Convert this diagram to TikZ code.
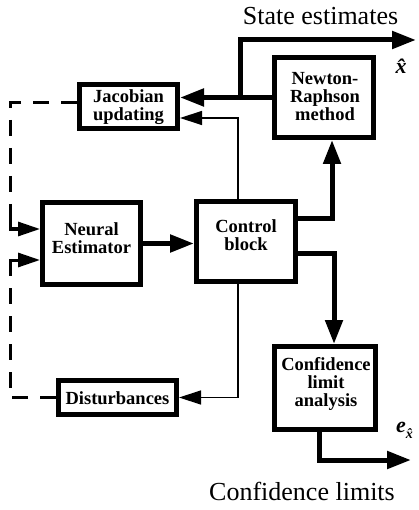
\documentclass[tikz,border=0pt]{standalone}
\usepackage{fontspec}
\setmainfont{Liberation Serif}
\usetikzlibrary{arrows.meta}
\tikzset{
  blk/.style={draw,line width=5pt,inner sep=0pt},
  lbl/.style={font=\fontsize{18.5}{18}\selectfont\bfseries,align=center,inner sep=0pt},
  fat/.style={line width=5pt,-{Triangle[length=24pt,width=17pt]}},
  thn/.style={line width=1.3pt,-{Triangle[length=22pt,width=14pt]}},
  dsh/.style={line width=3pt,dash pattern=on 16pt off 12pt},
  shortarr/.style={line width=3pt,-{Triangle[length=22pt,width=14pt]}},
  big/.style={font=\fontsize{26}{26}\selectfont,inner sep=0pt}
}
\begin{document}
\begin{tikzpicture}[x=1pt,y=-1pt]
\useasboundingbox (0,0) rectangle (418,510);
% boxes
\node[blk,minimum width=98pt,minimum height=44pt] (jac) at (128.5,106.5) {};
\node[lbl] (jact) at (128.5,107) {Jacobian\\updating};
\node[blk,minimum width=99pt,minimum height=80pt] (nr) at (324,97.5) {};
\node[lbl] (nrt) at (325,96.5) {Newton-\\Raphson\\method};
\node[blk,minimum width=98pt,minimum height=82pt] (ne) at (91.5,243.5) {};
\node[lbl] (net) at (91.5,238.5) {Neural\\Estimator};
\node[blk,minimum width=99pt,minimum height=80pt] (cb) at (246,241.5) {};
\node[lbl] (cbt) at (246,235.5) {Control\\block};
\node[blk,minimum width=118pt,minimum height=34pt] (dist) at (117.5,397.5) {};
\node[lbl] (distt) at (117.5,398) {Disturbances};
\node[blk,minimum width=101pt,minimum height=83pt] (cla) at (325,388) {};
\node[lbl] (clat) at (326,384) {Confidence\\limit\\analysis};
% labels
\node[big,anchor=base] (se) at (320.5,25) {State estimates};
\node[big,anchor=base] (cl) at (302,500) {Confidence limits};
\node[inner sep=0pt,anchor=base] (xh) at (401,74) {\fontsize{22}{22}\selectfont\bfseries\itshape \^x};
\node[inner sep=0pt,anchor=base west] (ex) at (396,432) {\fontsize{22}{22}\selectfont\bfseries\itshape e\raisebox{-6pt}{\fontsize{14}{14}\selectfont\^x}};
% coordinates
\coordinate (br) at (240,97.5);
\coordinate (seout) at (416,40);
\coordinate (clout) at (411,460);
\coordinate (d1) at (10,220);
\coordinate (d2) at (10,272);
% connectors
\draw[fat] (nr.west) -- (nr.west -| jac.east);
\draw[fat] (br) |- (seout);
\draw[thn] ([xshift=-8pt]cb.north) |- (jac.east |- 0,118);
\draw[thn] ([xshift=-8pt]cb.south) |- (dist.east);
\draw[fat] (ne.east) -- (ne.east -| cb.west);
\draw[fat] ([yshift=22.5pt]cb.east) -| ([xshift=8pt]nr.south);
\draw[fat] ([yshift=-11.5pt]cb.east) -| ([xshift=9pt]cla.north);
\draw[fat] ([xshift=-6pt]cla.south) |- (clout);
\draw[dsh] ([yshift=3.5pt]jac.west) -| (d1);
\draw[shortarr] (d1) |- ([yshift=14.5pt]ne.west);
\draw[dsh] (dist.west) -| (d2);
\draw[shortarr] (d2) |- ([yshift=-16.5pt]ne.west);
\end{tikzpicture}
\end{document}
